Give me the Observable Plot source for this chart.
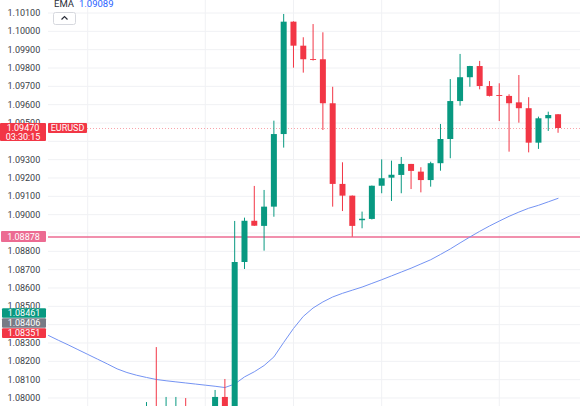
<!DOCTYPE html>
<html><head><meta charset="utf-8">
<script src="https://cdn.jsdelivr.net/npm/d3@7"></script>
<script src="https://cdn.jsdelivr.net/npm/@observablehq/plot@0.6"></script>
<style>
html,body{margin:0;padding:0;background:#fff;overflow:hidden;}
#chart svg{display:block;}
</style></head><body><div id="chart"></div>
<script>
// ---- data ----
const candleIndex = [0,1,2,3,4,5,6,7,8,9,10,11,12,13,14,15,16,17,18,19,20,21,22,23,24,25,26,27,28,29,30,31,32,33,34,35,36,37,38,39,40,41,42];
const candleOpen  = [1.0792,1.0794,1.0791,1.0793,1.0795,1.0793,1.0792,1.0794,1.08003,1.0793,1.08739,1.08964,1.08936,1.09041,1.09437,1.10050,1.09919,1.09846,1.09845,1.09605,1.09165,1.09101,1.08967,1.08974,1.09155,1.09199,1.09214,1.09274,1.09232,1.09186,1.09278,1.09410,1.09617,1.09747,1.09808,1.09699,1.09650,1.09645,1.09610,1.09578,1.09390,1.09523,1.09545];
const candleHigh  = [1.07975,1.08275,1.08003,1.08003,1.07997,1.0795,1.0795,1.08041,1.08101,1.08963,1.08981,1.09154,1.09132,1.09510,1.10092,1.10052,1.09965,1.10037,1.09992,1.09695,1.09283,1.09102,1.09014,1.09156,1.09299,1.09292,1.09312,1.09274,1.09256,1.09286,1.09492,1.09737,1.09874,1.09809,1.09836,1.09726,1.09714,1.09654,1.09759,1.09638,1.09532,1.09559,1.09546];
const candleLow   = [1.0789,1.0789,1.0789,1.0789,1.0789,1.0788,1.0788,1.0790,1.0791,1.0791,1.08701,1.08936,1.08801,1.08986,1.09363,1.09799,1.09772,1.09838,1.09459,1.09041,1.09017,1.08877,1.08923,1.08971,1.09114,1.09072,1.09114,1.09137,1.09119,1.09150,1.09237,1.09305,1.09592,1.09695,1.09681,1.09642,1.09508,1.09341,1.09499,1.09337,1.09356,1.09454,1.09444];
const candleClose = [1.0794,1.0791,1.0794,1.0795,1.0793,1.0792,1.0794,1.08003,1.0793,1.08739,1.08964,1.08937,1.09041,1.09437,1.10050,1.09919,1.09845,1.09841,1.09605,1.09165,1.09101,1.08936,1.08975,1.09155,1.09196,1.09215,1.09274,1.09236,1.09186,1.09278,1.09410,1.09617,1.09747,1.09808,1.09699,1.09645,1.09645,1.09605,1.09578,1.09390,1.09523,1.09541,1.09470];

const emaIndex = [-10,-9,-8,-7,-6,-5,-4,-3,-2,-1,0,1,2,3,4,5,6,7,8,9,10,11,12,13,14,15,16,17,18,19,20,21,22,23,24,25,26,27,28,29,30,31,32,33,34,35,36,37,38,39,40,41,42];
const emaValue = [1.08341,1.08315,1.08290,1.08264,1.08238,1.08212,1.08186,1.08159,1.08139,1.08124,1.08112,1.08101,1.08094,1.08088,1.08082,1.08076,1.08070,1.08064,1.08057,1.08076,1.08115,1.08143,1.08177,1.08224,1.08303,1.08379,1.08445,1.08491,1.08524,1.08551,1.08571,1.08588,1.08605,1.08625,1.08645,1.08666,1.08687,1.08708,1.08731,1.08754,1.08783,1.08813,1.08846,1.08878,1.08909,1.08938,1.08965,1.08991,1.09014,1.09035,1.09051,1.09070,1.09089];

const gridTicks = [1.080,1.081,1.082,1.083,1.084,1.085,1.086,1.087,1.088,1.089,1.090,1.091,1.092,1.093,1.094,1.095,1.096,1.097,1.098,1.099,1.100,1.101];
// tick labels that are not hidden behind the price-scale badges
const labelTicks = [1.080,1.081,1.082,1.083,1.085,1.086,1.087,1.088,1.090,1.091,1.092,1.093,1.095,1.096,1.097,1.098,1.099,1.100,1.101];
const timeGridIndex = [-6, 6, 15, 24, 36];

const symbolName = "EURUSD";
const lastPrice = 1.09470;
const countdown = "03:30:15";
const levelPrice = 1.08878;
const statLabels = ["1.08461", "1.08406", "1.08351"];
const statValues = [1.08461, 1.08406, 1.08351];
const emaName = "EMA";
const emaLast = "1.09089";

// ---- styles ----
const UP = "#089981", DOWN = "#f23645", PINK = "#ec6b92", GREY = "#787b86";
const FONT = "Roboto, 'Liberation Sans', sans-serif";

const candles = candleIndex.map((i, k) => ({
  i, open: candleOpen[k], high: candleHigh[k], low: candleLow[k], close: candleClose[k],
  up: candleClose[k] >= candleOpen[k]
}));
const ema = emaIndex.map((i, k) => ({i, v: emaValue[k]}));
const col = d => d.up ? UP : DOWN;

const chart = Plot.plot({
  width: 580, height: 406,
  marginLeft: 48, marginRight: 0, marginTop: 0, marginBottom: 0,
  style: {fontFamily: FONT, fontSize: "9px", background: "#fff"},
  x: {type: "linear", domain: [-10, 44.29], axis: null},
  y: {domain: [1.079536, 1.101682], axis: null},
  marks: [
    Plot.gridY(gridTicks, {stroke: "#f0f1f4", strokeOpacity: 1}),
    Plot.gridX(timeGridIndex, {stroke: "#f0f1f4", strokeOpacity: 1}),
    Plot.axisY(labelTicks, {anchor: "left", tickSize: 0, tickPadding: 0, textAnchor: "start", dx: -41,
      tickFormat: d => d.toFixed(5), fill: "#3a3e48", fontSize: 9}),
    Plot.ruleY([lastPrice], {stroke: DOWN, strokeOpacity: 0.45, strokeDasharray: "1,2"}),
    Plot.ruleY([levelPrice], {stroke: PINK, strokeWidth: 1.6}),
    Plot.line(ema, {x: "i", y: "v", stroke: "#7493f3", strokeWidth: 1, clip: true}),
    Plot.ruleX(candles, {x: "i", y1: "low", y2: "high", stroke: col, strokeWidth: 1, clip: true}),
    Plot.ruleX(candles, {x: "i", y1: "open", y2: "close", stroke: col, strokeWidth: 6, clip: true})
  ]
});
document.getElementById("chart").append(chart);

// ---- price-scale labels drawn with the plot's own y scale ----
const sy = chart.scale("y");
const svg = d3.select(chart);
const g = svg.append("g").attr("font-family", FONT).attr("font-size", 9).attr("fill", "#fff");

function box(x, yc, w, h, top, fill) {
  g.append("rect").attr("x", x).attr("y", yc - top).attr("width", w).attr("height", h).attr("fill", fill).attr("rx", 1);
}
function label(x, yc, text) {
  g.append("text").attr("x", x).attr("y", yc).attr("dy", "0.35em").attr("text-anchor", "middle").text(text);
}
// last price + countdown
const yLast = sy.apply(lastPrice);
box(0, yLast, 46, 18, 5, DOWN);
label(23, yLast, lastPrice.toFixed(5));
label(23, yLast + 8.5, countdown);
// symbol
box(48, yLast, 39, 10, 5, DOWN);
label(67.5, yLast, symbolName);
// level
const yLev = sy.apply(levelPrice);
box(1, yLev, 45, 11, 5.5, PINK);
label(23.5, yLev, levelPrice.toFixed(5));
// stats
const statColors = [UP, GREY, DOWN];
statValues.forEach((v, k) => {
  const yc = sy.apply(v);
  box(2, yc, 44, 9.6, 4.8, statColors[k]);
  label(24, yc, statLabels[k]);
});
// EMA legend
const lg = svg.append("g").attr("font-family", FONT).attr("font-size", 9.5).attr("text-anchor", "start");
lg.append("text").attr("x", 54).attr("y", 7).attr("fill", "#2a2e39").text(emaName);
lg.append("text").attr("x", 79).attr("y", 7).attr("fill", "#2962ff").text(emaLast);
lg.append("rect").attr("x", 53.5).attr("y", 12.5).attr("width", 22).attr("height", 12).attr("rx", 2)
  .attr("fill", "#fff").attr("stroke", "#d6d8de");
lg.append("path").attr("d", "M61.5,19.5 L64.5,16.5 L67.5,19.5").attr("fill", "none").attr("stroke", "#2a2e39").attr("stroke-width", 1.2);
</script></body></html>
